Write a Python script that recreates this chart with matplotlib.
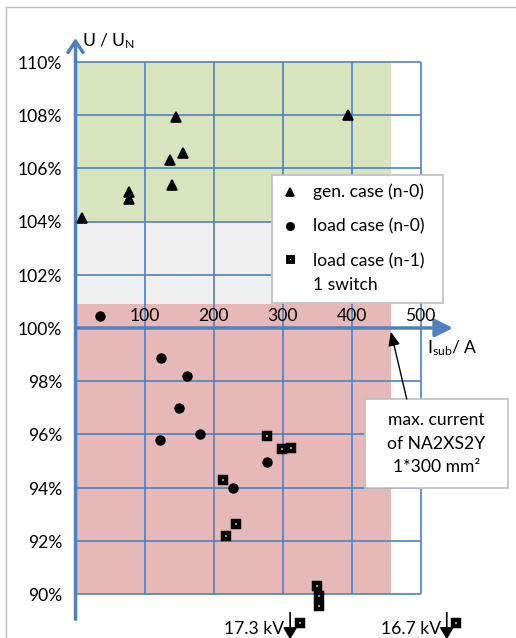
import matplotlib
matplotlib.use("Agg")
import matplotlib.pyplot as plt
from matplotlib.lines import Line2D
from matplotlib.patches import Rectangle

plt.rcParams['font.family'] = ['Lato', 'DejaVu Sans']
plt.rcParams['mathtext.fontset'] = 'custom'
plt.rcParams['mathtext.rm'] = 'Lato'
plt.rcParams['mathtext.it'] = 'Lato:italic'

# values (current in A, voltage in % of U_N)
gen_current = [9, 78, 78, 137, 140, 145, 156, 395]
gen_voltage = [104.15, 105.1, 104.85, 106.32, 105.38, 107.92, 106.57, 108.0]

load_current = [35, 122, 124, 150, 161, 181, 228, 278]
load_voltage = [100.45, 95.8, 98.86, 97.0, 98.21, 96.0, 93.98, 94.95]

n1_current = [214, 218, 232, 277, 299, 312, 350, 353, 353]
n1_voltage = [94.3, 92.18, 92.63, 95.95, 95.44, 95.5, 90.31, 89.94, 89.55]

# (n-1) cases far below the plotted range, shown under the axis with their voltage
off_current = [325, 552]
off_label = ['17.3 kV', '16.7 kV']

x_ticks = [100, 200, 300, 400, 500]
y_ticks = [90, 92, 94, 96, 98, 100, 102, 104, 106, 108, 110]

series_labels = ['gen. case (n-0)', 'load case (n-0)', 'load case (n-1)\n1 switch']

i_max = 457          # max. current of NA2XS2Y 1*300 mm²
band_green = (104, 110)
band_grey = (100.9, 104)
band_red = (90, 100.9)

blue = '#4f81bd'
fs = 12.6
W, H = 516, 638

tri_style = dict(marker='^', ms=7, mew=1.2, mfc='black', mec='black')
dot_style = dict(marker='o', ms=7.5, mew=0, mfc='black', mec='black')
sq_style = dict(marker='s', ms=4.0, mew=3.2, mfc='white', mec='black')

fig = plt.figure(figsize=(W / 100, H / 100), dpi=100)
ax = fig.add_axes([0.1330, 0.00643, 0.7756, 0.9715])
ax.set_xlim(-10, 570)
ax.set_ylim(88.5, 111.8)
ax.axis('off')


def fx(px):
    return px / W


def fy(py):
    return 1 - py / H


# chart frame (only top and left edge visible)
fig.add_artist(Line2D([fx(6), fx(6)], [0, fy(7)], color='#bfbfbf', lw=1))
fig.add_artist(Line2D([fx(6), 1], [fy(7), fy(7)], color='#bfbfbf', lw=1))

# background bands
ax.fill_between([0, i_max], *band_green, color='#d7e4bd', lw=0, zorder=0)
ax.fill_between([0, i_max], *band_grey, color='#f0f0f0', lw=0, zorder=0)
ax.fill_between([0, i_max], *band_red, color='#e6b9b8', lw=0, zorder=0)

# grid
ax.vlines(x_ticks, y_ticks[0], y_ticks[-1], color=blue, lw=1.2, zorder=1)
ax.hlines(y_ticks, 0, x_ticks[-1], color=blue, lw=1.2, zorder=1)

# axes with arrows
ax.annotate('', xy=(0, 110.9), xytext=(0, 89.05),
            arrowprops=dict(arrowstyle='->,head_length=0.45,head_width=0.3', lw=2.5,
                            color=blue, shrinkA=0, shrinkB=0, mutation_scale=18),
            zorder=2)
ax.annotate('', xy=(547, 100), xytext=(0, 100),
            arrowprops=dict(arrowstyle='-|>,head_length=0.6,head_width=0.3', lw=2.5,
                            color=blue, shrinkA=0, shrinkB=0, mutation_scale=18),
            zorder=2)

for y in y_ticks:
    ax.text(-19, y - 0.26, f'{y}%', ha='right', va='baseline', fontsize=fs)
for x in x_ticks:
    ax.text(x, 100.27, str(x), ha='center', va='baseline', fontsize=fs)

ax.text(9.4, 110.6, r'U / U$_\mathrm{N}$', ha='left', va='baseline', fontsize=fs)
ax.text(509, 99.06, r'I$_\mathrm{sub}$/ A', ha='left', va='baseline', fontsize=fs)

# data
ax.plot(gen_current, gen_voltage, ls='none', zorder=3, **tri_style)
ax.plot(load_current, load_voltage, ls='none', zorder=3, **dot_style)
ax.plot(n1_current, n1_voltage, ls='none', zorder=3, clip_on=False, **sq_style)

# off-scale (n-1) points
ax.plot(off_current, [88.92] * len(off_current), ls='none', zorder=3, clip_on=False,
        **sq_style)
for x, lab in zip(off_current, off_label):
    ax.text(x - 22, 88.5, lab, ha='right', va='baseline', fontsize=fs)
    ax.annotate('', xy=(x - 14, 88.3), xytext=(x - 14, 89.3),
                arrowprops=dict(arrowstyle='-|>,head_length=0.5,head_width=0.3', lw=1.2,
                                color='black', shrinkA=0, shrinkB=0, mutation_scale=14),
                annotation_clip=False)

# legend box
fig.add_artist(Rectangle((fx(272), fy(303)), fx(443) - fx(272), fy(175) - fy(303),
                         transform=fig.transFigure, facecolor='white',
                         edgecolor='#bfbfbf', lw=1.2, zorder=5))
marker_rows = [191.5, 225.5, 259]
text_rows = [197.3, 231, 290]      # baseline of the last line of each label
leg_styles = [dict(tri_style, ms=6), dict(dot_style, ms=6.5), dict(sq_style, ms=3.6, mew=2.8)]
for ym, yt, lab, st in zip(marker_rows, text_rows, series_labels, leg_styles):
    fig.add_artist(Line2D([fx(289.5)], [fy(ym)], ls='none', transform=fig.transFigure,
                          zorder=6, **st))
    fig.text(fx(313), fy(yt), lab, ha='left', va='baseline', fontsize=fs,
             linespacing=1.6, zorder=6)

# max. current note
ax.add_patch(Rectangle((419, 93.97), 207.5, 3.35, facecolor='white', edgecolor='#bfbfbf',
                       lw=1.2, zorder=5, clip_on=False))
ax.text(522.7, 95.65, 'max. current\nof NA2XS2Y\n1*300 mm²', ha='center', va='center',
        fontsize=fs, linespacing=1.6, zorder=6)
ax.annotate('', xy=(i_max, 99.86), xytext=(480, 97.33),
            arrowprops=dict(arrowstyle='-|>,head_length=0.6,head_width=0.25', lw=1,
                            color='black', shrinkA=0, shrinkB=0, mutation_scale=14),
            zorder=6)

fig.savefig('out.png', dpi=100)
